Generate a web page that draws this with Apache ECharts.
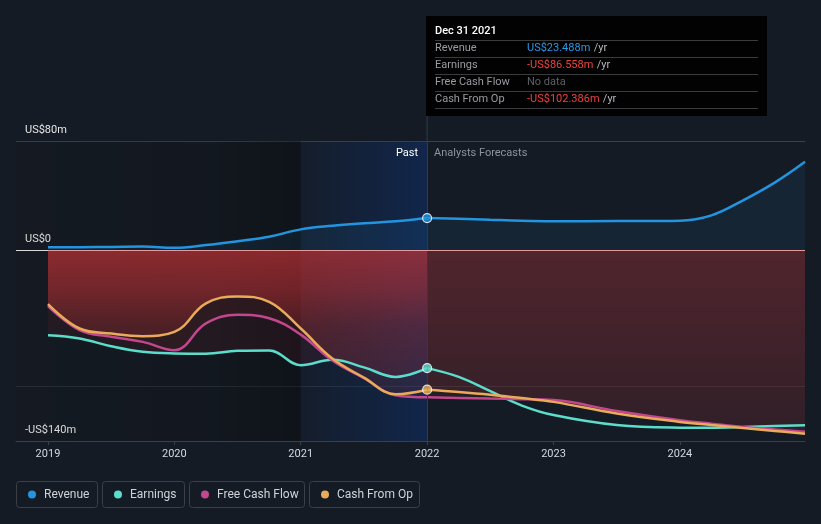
<!DOCTYPE html>
<html><head><meta charset="utf-8">
<script src="https://cdn.jsdelivr.net/npm/echarts@6/dist/echarts.min.js"></script>
<style>html,body{margin:0;padding:0;background:#151b24}#c{width:821px;height:524px}</style>
</head><body><div id="c"></div><script>
// ---------- data ----------
const pastT = [2019, 2019.25, 2019.5, 2019.75, 2020, 2020.25, 2020.5, 2020.75, 2021, 2021.25, 2021.5, 2021.75, 2022];
const foreT = [2022, 2022.25, 2022.5, 2022.75, 2023, 2023.5, 2024, 2024.25, 2024.5, 2024.75, 2024.99];
const revenuePast = [2.0, 2.1, 2.3, 2.6, 1.7, 3.7, 6.5, 9.8, 15.2, 17.8, 19.6, 21.1, 23.488];
const revenueFore = [23.488, 23.0, 22.2, 21.5, 21.2, 21.3, 21.6, 25.5, 36.5, 49.5, 64.8];
const earningsPast = [-62.4, -64.8, -70.5, -74.6, -75.8, -76.0, -73.9, -73.6, -84.4, -80.5, -86.0, -93.0, -86.558];
const earningsFore = [-86.558, -93.0, -103.5, -114.0, -121.0, -128.3, -130.2, -130.3, -129.8, -129.0, -128.4];
const fcfPast = [-41.0, -58.7, -63.6, -67.3, -73.4, -53.8, -47.5, -50.0, -62.0, -81.0, -94.0, -106.5, -108.0];
const fcfFore = [-108.0, -108.4, -108.9, -109.3, -110.0, -118.0, -124.8, -127.3, -129.7, -131.5, -133.3];
const cfoPast = [-39.6, -57.5, -61.2, -63.1, -60.0, -39.1, -34.0, -37.9, -57.5, -79.5, -93.5, -105.7, -102.386];
const cfoFore = [-102.386, -104.0, -106.0, -108.5, -111.3, -119.8, -126.0, -128.3, -130.5, -132.6, -134.6];
const seriesNames = ['Revenue', 'Earnings', 'Free Cash Flow', 'Cash From Op'];
const xTicks = [2019, 2020, 2021, 2022, 2023, 2024];
const yTickLabels = {80: 'US$80m', 0: 'US$0', '-140': '-US$140m'};
const yMin = -140, yMax = 80;
const xMin = 2018.747, xMax = 2024.99;
const pastEnd = 2022, highlightStart = 2021;
const tooltipTitle = 'Dec 31 2021';
const tooltipFcf = 'No data';

const colors = {rev: '#2394df', earn: '#5cdccb', fcf: '#c2478c', cfo: '#e9ab5a'};
const font = 'Roboto, "Noto Sans", sans-serif';
const pair = (t, v) => t.map((x, i) => [x, v[i]]);

const chart = echarts.init(document.getElementById('c'), null, {renderer: 'canvas'});

const grid = {left: 16, right: 16, top: 141, bottom: 83};

function baseOption() {
  return {
    backgroundColor: '#151b24',
    animation: false,
    grid: grid,
    xAxis: {
      type: 'value', min: xMin, max: xMax,
      axisLine: {show: true, onZero: false, lineStyle: {color: '#3a3f48', width: 1}},
      axisTick: {show: true, customValues: xTicks, length: 4, lineStyle: {color: '#3a3f48'}},
      axisLabel: {customValues: xTicks, color: '#d4d8de', fontSize: 11, fontFamily: font, margin: 8,
        formatter: v => String(Math.round(v))},
      splitLine: {show: false}
    },
    yAxis: {
      type: 'value', min: yMin, max: yMax, interval: 20,
      axisLine: {show: false}, axisTick: {show: false},
      axisLabel: {inside: true, color: '#e6e6e6', fontSize: 11, fontFamily: font,
        verticalAlign: 'bottom', padding: [0, 0, 5, 0], margin: 9,
        formatter: v => yTickLabels[String(Math.round(v))] || ''},
      splitLine: {show: true, lineStyle: {width: 1, color: [
        'rgba(0,0,0,0)', 'rgba(0,0,0,0)', '#2a2f37', 'rgba(0,0,0,0)', 'rgba(0,0,0,0)', 'rgba(0,0,0,0)',
        'rgba(0,0,0,0)', '#e8e8e8', 'rgba(0,0,0,0)', 'rgba(0,0,0,0)', 'rgba(0,0,0,0)', '#3b4049']}}
    },
    series: []
  };
}
chart.setOption(baseOption());

const y0 = chart.convertToPixel({yAxisIndex: 0}, 0);
const yBot = chart.convertToPixel({yAxisIndex: 0}, yMin);
const yTop = chart.convertToPixel({yAxisIndex: 0}, yMax);
const xPast = chart.convertToPixel({xAxisIndex: 0}, pastEnd);

function vgrad(stops) {
  return {type: 'linear', x: 0, y: y0, x2: 0, y2: yBot, global: true,
    colorStops: stops.map(s => ({offset: s[0], color: s[1]}))};
}

const SM = 0.4;
function lineS(name, t, v, color, z, area) {
  const s = {
    name: name, type: 'line', data: pair(t, v), smooth: SM,
    showSymbol: false, symbol: 'none', z: z,
    lineStyle: {color: color, width: 2.5}, itemStyle: {color: color}
  };
  if (area) s.areaStyle = area;
  return s;
}
function areaS(t, v, grad, z) {
  return {type: 'line', data: pair(t, v), smooth: SM, showSymbol: false, symbol: 'none',
    z: z, lineStyle: {width: 0, opacity: 0}, areaStyle: {color: grad, origin: 0}, silent: true};
}

const revArea = {color: 'rgba(35,148,223,0.12)', origin: 0};
const series = [
  // background dark band for past
  {type: 'line', data: [], z: 0, silent: true,
    markArea: {silent: true, itemStyle: {color: {type: 'linear', x: 0, y: 0, x2: 1, y2: 0,
      colorStops: [{offset: 0, color: 'rgba(0,0,0,0.06)'}, {offset: 0.7, color: 'rgba(0,0,0,0.12)'}, {offset: 1, color: 'rgba(0,0,0,0.30)'}]}},
      data: [[{xAxis: xMin, yAxis: yMax}, {xAxis: highlightStart, yAxis: yMin}]]}},
  // past negative fills
  areaS(pastT, earningsPast, 'rgba(170,40,50,0.15)', 1),
  areaS(pastT, fcfPast, 'rgba(200,50,50,0.10)', 1),
  areaS(pastT, cfoPast, vgrad([[0, 'rgba(212,54,56,0.80)'], [0.2, 'rgba(205,52,54,0.62)'], [0.4, 'rgba(200,50,50,0.30)'], [0.7, 'rgba(200,50,50,0.10)'], [1, 'rgba(200,50,50,0.05)']]), 1),
  // forecast fills
  areaS(foreT, fcfFore, vgrad([[0, 'rgba(195,55,62,0.27)'], [1, 'rgba(190,55,62,0.11)']]), 1),
  areaS(foreT, cfoFore, vgrad([[0, 'rgba(195,55,62,0.27)'], [1, 'rgba(190,55,62,0.11)']]), 1),
  // lines
  lineS(seriesNames[1], pastT, earningsPast, colors.earn, 2),
  lineS(seriesNames[1], foreT, earningsFore, colors.earn, 2),
  lineS(seriesNames[2], pastT, fcfPast, colors.fcf, 2),
  lineS(seriesNames[2], foreT, fcfFore, colors.fcf, 2),
  lineS(seriesNames[3], pastT, cfoPast, colors.cfo, 2),
  lineS(seriesNames[3], foreT, cfoFore, colors.cfo, 2),
  // highlight overlay + reference lines
  {type: 'line', data: [], z: 3, silent: true,
    markArea: {silent: true, itemStyle: {color: {type: 'linear', x: 0, y: 0, x2: 1, y2: 0,
      colorStops: [{offset: 0, color: 'rgba(10,60,150,0.06)'}, {offset: 1, color: 'rgba(10,60,150,0.34)'}]}},
      data: [[{xAxis: highlightStart, yAxis: yMax}, {xAxis: pastEnd, yAxis: yMin}]]},
    markLine: {silent: true, symbol: 'none', label: {show: false},
      data: [
        [{coord: [pastEnd, yMax], lineStyle: {color: '#2b3a50', width: 1, type: 'solid'}}, {coord: [pastEnd, yMin]}],
        [{coord: [pastT[0], 0], lineStyle: {color: '#e39b9b', width: 1.2, type: 'solid'}}, {coord: [foreT[foreT.length - 1], 0]}]
      ]}},
  // revenue
  lineS(seriesNames[0], pastT, revenuePast, colors.rev, 4, revArea),
  lineS(seriesNames[0], foreT, revenueFore, colors.rev, 4, revArea),
  // markers at last reported point
  {type: 'scatter', z: 6, symbolSize: 9, silent: true,
    data: [
      {value: [pastEnd, revenuePast[revenuePast.length - 1]], itemStyle: {color: colors.rev}},
      {value: [pastEnd, earningsPast[earningsPast.length - 1]], itemStyle: {color: colors.earn}},
      {value: [pastEnd, cfoPast[cfoPast.length - 1]], itemStyle: {color: colors.cfo}}
    ],
    itemStyle: {borderColor: '#ffffff', borderWidth: 1.2}}
];

// tooltip box text
function money(v) {
  return (v < 0 ? '-' : '') + 'US$' + Math.abs(v).toFixed(3) + 'm';
}
const tipRows = [
  {label: seriesNames[0], val: money(revenuePast[revenuePast.length - 1]), col: '#2a98e6', unit: true},
  {label: seriesNames[1], val: money(earningsPast[earningsPast.length - 1]), col: '#f0413c', unit: true},
  {label: seriesNames[2], val: tooltipFcf, col: '#5d6066', unit: false},
  {label: seriesNames[3], val: money(cfoPast[cfoPast.length - 1]), col: '#f0413c', unit: true}
];
const tipX = 426, tipY = 16, tipW = 341, tipH = 100;
const graphics = [];
graphics.push({type: 'line', silent: true, shape: {x1: xPast, y1: tipY + tipH, x2: xPast, y2: yTop},
  style: {stroke: '#2b3a50', lineWidth: 1}, z: 5});
graphics.push({type: 'rect', silent: true, shape: {x: tipX, y: tipY, width: tipW, height: tipH},
  style: {fill: '#020203'}, z: 10});
graphics.push({type: 'text', silent: true, x: tipX + 9, y: tipY + 15, z: 11,
  style: {text: tooltipTitle, fill: '#ffffff', font: '500 11px ' + font, verticalAlign: 'middle'}});
for (let i = 0; i < 5; i++) {
  graphics.push({type: 'line', silent: true, z: 11,
    shape: {x1: tipX + 9, y1: tipY + 24.5 + 17 * i, x2: tipX + 332, y2: tipY + 24.5 + 17 * i},
    style: {stroke: '#3a3b3e', lineWidth: 1}});
}
tipRows.forEach((r, i) => {
  const cy = tipY + 32.5 + 17 * i;
  graphics.push({type: 'text', silent: true, x: tipX + 9, y: cy, z: 11,
    style: {text: r.label, fill: '#9a9ca0', font: '11px ' + font, verticalAlign: 'middle'}});
  graphics.push({type: 'text', silent: true, x: tipX + 101, y: cy, z: 11,
    style: {text: r.unit ? '{v|' + r.val + '} {u|/yr}' : '{v|' + r.val + '}', verticalAlign: 'middle',
      rich: {v: {fill: r.col, font: '11px ' + font}, u: {fill: '#b4b6ba', font: '11px ' + font}}}});
});
// Past / Analysts Forecasts
graphics.push({type: 'text', silent: true, x: xPast - 9, y: yTop + 12, z: 7,
  style: {text: 'Past', fill: '#ffffff', font: '11px ' + font, align: 'right', verticalAlign: 'middle'}});
graphics.push({type: 'text', silent: true, x: xPast + 7, y: yTop + 12, z: 7,
  style: {text: 'Analysts Forecasts', fill: '#8e939b', font: '11px ' + font, align: 'left', verticalAlign: 'middle'}});
// legend boxes
const legendBoxes = [[16, 81], [102, 82], [189, 115], [309, 110]];
const legendCols = [colors.rev, colors.earn, colors.fcf, colors.cfo];
legendBoxes.forEach((b, i) => {
  graphics.push({type: 'rect', silent: true, shape: {x: b[0] + 0.5, y: 481.5, width: b[1], height: 26, r: 3},
    style: {fill: 'rgba(0,0,0,0)', stroke: '#3a3f48', lineWidth: 1}});
  graphics.push({type: 'circle', silent: true, shape: {cx: b[0] + 16, cy: 494.5, r: 4}, style: {fill: legendCols[i]}});
  graphics.push({type: 'text', silent: true, x: b[0] + 28, y: 494.5,
    style: {text: seriesNames[i], fill: '#cfd3d9', font: '12px ' + font, verticalAlign: 'middle'}});
});

const opt = baseOption();
opt.series = series;
opt.graphic = {elements: graphics};
chart.setOption(opt, true);
</script></body></html>
